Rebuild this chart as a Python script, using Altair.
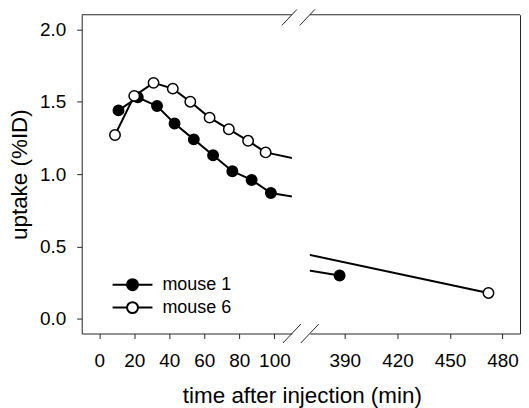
import altair as alt
import pandas as pd

# ---- data ----
series_names = ["mouse 1", "mouse 6"]
mouse1_time = [11, 22, 33, 43, 54, 65, 76, 87, 98, 387]
mouse1_uptake = [1.44, 1.53, 1.47, 1.35, 1.24, 1.13, 1.02, 0.96, 0.87, 0.30]
mouse6_time = [9, 20, 31, 42, 52, 63, 74, 85, 95, 472]
mouse6_uptake = [1.27, 1.54, 1.63, 1.59, 1.50, 1.39, 1.31, 1.23, 1.15, 0.18]
left_ticks = [0, 20, 40, 60, 80, 100]
right_ticks = [390, 420, 450, 480]
y_ticks = [0.0, 0.5, 1.0, 1.5, 2.0]
left_domain = [-10, 110]
right_domain = [370, 490]
y_domain = [-0.1, 2.1]

df = pd.concat([
    pd.DataFrame({"time": mouse1_time, "uptake": mouse1_uptake, "series": series_names[0]}),
    pd.DataFrame({"time": mouse6_time, "uptake": mouse6_uptake, "series": series_names[1]}),
], ignore_index=True)

# ---- styling ----
W, H = 211, 320
GAP = 18
FONT = "Liberation Sans"
FRAME = "#262626"
legend_path = "M-4,0H-1.1A1.1,1.1,0,1,1,1.1,0A1.1,1.1,0,1,1,-1.1,0ZM1.1,0H4"
one_row = alt.Data(values=[{}])


def rule(x1, x2, y1, y2, width=1):
    return alt.Chart(one_row).mark_rule(color=FRAME, strokeWidth=width, clip=False).encode(
        x=alt.value(x1), x2=alt.value(x2), y=alt.value(y1), y2=alt.value(y2)
    )


def panel(domain, ticks, is_left):
    if is_left:
        x_axis = alt.Axis(values=ticks, title="time after injection (min)", titleX=W + GAP / 2 + 1,
                          titleAlign="center", titlePadding=14, labelPadding=13)
        y_axis = alt.Axis(values=y_ticks, format=".1f", title="uptake (%ID)", orient="left",
                          labelPadding=11, titlePadding=8)
        legend = alt.Legend(title=None, orient="none", legendX=42, legendY=262,
                            symbolType=legend_path, symbolSize=100, symbolStrokeColor="black",
                            symbolStrokeWidth=2, labelFontSize=18, labelFont=FONT,
                            labelColor="black", labelOffset=21, rowPadding=3, padding=0)
    else:
        x_axis = alt.Axis(values=ticks, title=None, labelPadding=13)
        y_axis = alt.Axis(orient="right", labels=False, ticks=False, title=None, domain=True)
        legend = None

    x = alt.X("time:Q", scale=alt.Scale(domain=domain, nice=False, zero=False), axis=x_axis)
    y = alt.Y("uptake:Q", scale=alt.Scale(domain=y_domain, nice=False, zero=False), axis=y_axis)

    base = alt.Chart(df)
    line = base.mark_line(clip=True, color="black", strokeWidth=2).encode(
        x=x, y=y, detail="series:N"
    )
    pts = base.mark_point(clip=True, shape="circle", filled=True, size=110, stroke="black",
                          strokeWidth=1.5, opacity=1).encode(
        x=x, y=y,
        fill=alt.Fill("series:N", scale=alt.Scale(domain=series_names, range=["black", "white"]),
                      legend=legend),
    )
    layers = [line, pts, rule(0, W, 0, 0)]
    if is_left:
        layers += [
            rule(W - 10.1, W + 5.0, 10.7, -5.3),
            rule(W + GAP - 10.1, W + GAP + 5.0, 10.7, -5.3),
            rule(W - 9, W + 9, H + 9.5, H - 9.5),
            rule(W + GAP - 9, W + GAP + 9, H + 9.5, H - 9.5),
        ]
    return alt.layer(*layers).properties(width=W, height=H)


chart = alt.hconcat(
    panel(left_domain, left_ticks, True),
    panel(right_domain, right_ticks, False),
    spacing=GAP, bounds="flush",
).resolve_scale(x="independent", y="independent").resolve_legend(fill="independent").properties(
    padding={"left": 0, "top": 0, "right": 0, "bottom": 0}
).configure_view(stroke=None).configure_axis(
    grid=False, domainColor=FRAME, domainWidth=1, tickColor=FRAME, tickSize=5, tickWidth=1,
    labelFont=FONT, labelFontSize=19, labelColor="black",
    titleFont=FONT, titleFontSize=22.5, titleFontWeight="normal", titleColor="black",
)

chart.save("out.html", embed_options={"renderer": "svg", "actions": False})
